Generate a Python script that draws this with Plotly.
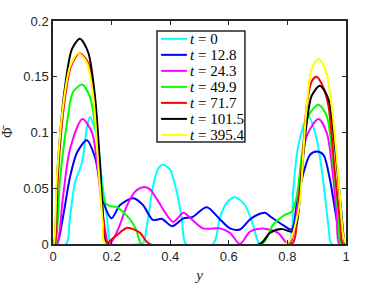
import plotly.graph_objects as go

# ---- data ----
labels = ["t = 0", "t = 12.8", "t = 24.3", "t = 49.9", "t = 71.7", "t = 101.5", "t = 395.4"]
colors = ["#00FFFF", "#0000FF", "#FF00FF", "#00FF00", "#FF0000", "#000000", "#FFFF00"]

y_t0 = [0, 0.045, 0.058, 0.075, 0.099, 0.116, 0.126, 0.15, 0.167, 0.184, 0.2,
        0.3, 0.307, 0.325, 0.341, 0.358, 0.375, 0.399, 0.423, 0.44, 0.454,
        0.546, 0.57, 0.593, 0.621, 0.655, 0.683, 0.706,
        0.803, 0.82, 0.837, 0.871, 0.9, 0.923, 0.94, 0.951, 1.0]
phi_t0 = [0, 0, 0.024, 0.055, 0.073, 0.105, 0.114, 0.096, 0.058, 0.024, 0,
          0, 0, 0.024, 0.051, 0.067, 0.071, 0.067, 0.046, 0.022, 0,
          0, 0.024, 0.037, 0.042, 0.035, 0.017, 0,
          0, 0.049, 0.088, 0.115, 0.094, 0.055, 0.016, 0, 0]

y_t1 = [0, 0.013, 0.034, 0.058, 0.082, 0.115, 0.143, 0.16, 0.178, 0.2, 0.229,
        0.274, 0.307, 0.341, 0.372, 0.406, 0.445, 0.474, 0.525, 0.57, 0.604,
        0.638, 0.672, 0.696, 0.724, 0.74, 0.785, 0.815, 0.832, 0.855, 0.877,
        0.9, 0.923, 0.945, 0.968, 0.985, 1.0]
phi_t1 = [0, 0, 0.024, 0.06, 0.082, 0.093, 0.078, 0.055, 0.033, 0.023, 0.035,
          0.041, 0.035, 0.0216, 0.0225, 0.016, 0.023, 0.024, 0.033, 0.022, 0.014,
          0.013, 0.022, 0.026, 0.028, 0.025, 0.017, 0.013, 0.036, 0.064, 0.08,
          0.083, 0.08, 0.058, 0.022, 0, 0]

y_t2 = [0, 0.013, 0.034, 0.058, 0.1, 0.133, 0.154, 0.171, 0.19, 0.2, 0.225,
        0.25, 0.28, 0.307, 0.331, 0.355, 0.41, 0.445, 0.474, 0.512, 0.57,
        0.604, 0.638, 0.672, 0.717, 0.768, 0.8, 0.809, 0.826, 0.843, 0.866,
        0.906, 0.934, 0.957, 0.968, 0.977, 1.0]
phi_t2 = [0, 0, 0.042, 0.085, 0.112, 0.1, 0.064, 0.024, 0, 0.002, 0.015,
          0.033, 0.047, 0.051, 0.049, 0.04, 0.02, 0.028, 0.022, 0.014, 0.014,
          0.01, 0, 0.011, 0.014, 0.01, 0, 0, 0.016, 0.055, 0.097,
          0.112, 0.1, 0.058, 0.025, 0, 0]

y_t3 = [0, 0.007, 0.024, 0.048, 0.068, 0.099, 0.126, 0.15, 0.167, 0.178, 0.195,
        0.218, 0.263, 0.285, 0.303, 0.713, 0.75, 0.79, 0.815, 0.832, 0.849,
        0.872, 0.906, 0.934, 0.957, 0.974, 0.982, 1.0]
phi_t3 = [0, 0, 0.058, 0.109, 0.136, 0.143, 0.132, 0.094, 0.051, 0.037, 0.034,
          0.033, 0.022, 0.012, 0, 0, 0.017, 0.026, 0.029, 0.043, 0.079,
          0.115, 0.125, 0.115, 0.07, 0.025, 0, 0]

y_t4 = [0, 0.006, 0.016, 0.037, 0.061, 0.09, 0.119, 0.141, 0.158, 0.173, 0.184,
        0.195, 0.218, 0.254, 0.297, 0.33, 0.815, 0.826, 0.835, 0.852, 0.866,
        0.883, 0.9, 0.92, 0.94, 0.962, 0.98, 0.989, 1.0]
phi_t4 = [0, 0, 0.058, 0.123, 0.159, 0.171, 0.163, 0.133, 0.073, 0.019, 0,
          0.003, 0.008, 0.0145, 0.01, 0, 0, 0.006, 0.028, 0.079, 0.124,
          0.146, 0.15, 0.142, 0.124, 0.064, 0.019, 0, 0]

y_t5 = [0, 0.003, 0.017, 0.041, 0.065, 0.092, 0.12, 0.143, 0.16, 0.171, 0.183,
        0.706, 0.74, 0.78, 0.815, 0.832, 0.849, 0.866, 0.883, 0.911, 0.94,
        0.962, 0.98, 0.997, 1.0]
phi_t5 = [0, 0, 0.073, 0.141, 0.175, 0.184, 0.172, 0.133, 0.073, 0.024, 0,
          0, 0.01, 0.0135, 0.011, 0.019, 0.064, 0.109, 0.133, 0.142, 0.13,
          0.088, 0.04, 0, 0]

y_t6 = [0, 0.003, 0.013, 0.034, 0.058, 0.086, 0.115, 0.137, 0.154, 0.17, 0.18,
        0.792, 0.81, 0.826, 0.843, 0.855, 0.866, 0.883, 0.906, 0.929, 0.951,
        0.968, 0.98, 0.991, 1.0]
phi_t6 = [0, 0, 0.058, 0.123, 0.159, 0.171, 0.163, 0.133, 0.073, 0.019, 0,
          0, 0.004, 0.016, 0.04, 0.085, 0.124, 0.157, 0.166, 0.157, 0.124,
          0.079, 0.04, 0.007, 0]

xs = [y_t0, y_t1, y_t2, y_t3, y_t4, y_t5, y_t6]
ys = [phi_t0, phi_t1, phi_t2, phi_t3, phi_t4, phi_t5, phi_t6]

x_ticks = [0, 0.2, 0.4, 0.6, 0.8, 1]
y_ticks = [0, 0.05, 0.1, 0.15, 0.2]

fig = go.Figure()
for lab, col, xv, yv in zip(labels, colors, xs, ys):
    name = "<i>t</i>" + lab[1:]
    fig.add_trace(go.Scatter(x=xv, y=yv, mode="lines", name=name, showlegend=False,
                             line=dict(color=col, width=2, shape="spline", smoothing=0.8)))

# legend box drawn in paper coordinates (compact, MATLAB-like)
L_x0, L_x1, L_y0, L_y1 = 0.355, 0.655, 0.457, 0.955
line_x0, line_x1, text_x = 0.369, 0.457, 0.460
row_top, row_step = 0.920, 0.0718
shapes = [dict(type="rect", xref="paper", yref="paper", x0=L_x0, x1=L_x1, y0=L_y0, y1=L_y1,
               line=dict(color="#262626", width=1.5), fillcolor="white", layer="above")]
annotations = []
for i, (lab, col) in enumerate(zip(labels, colors)):
    yy = row_top - i * row_step
    shapes.append(dict(type="line", xref="paper", yref="paper", x0=line_x0, x1=line_x1,
                       y0=yy, y1=yy, line=dict(color=col, width=2), layer="above"))
    annotations.append(dict(xref="paper", yref="paper", x=text_x, y=yy, xanchor="left",
                            yanchor="middle", showarrow=False,
                            text="<i>t</i>" + lab[1:],
                            font=dict(family="Liberation Serif", size=15, color="black")))

axis_common = dict(showline=True, mirror="ticks", ticks="inside", ticklen=4,
                   linecolor="#262626", linewidth=1.5, tickcolor="#262626",
                   showgrid=False, zeroline=False, automargin=False,
                   tickfont=dict(family="Liberation Sans", size=13, color="#262626"))

fig.update_layout(
    width=382, height=286,
    margin=dict(l=53, r=36, t=21, b=42, autoexpand=False),
    paper_bgcolor="white", plot_bgcolor="white",
    xaxis=dict(range=[0, 1], tickvals=x_ticks, ticktext=[str(v) for v in x_ticks],
               title=dict(text="<i>y</i>", standoff=6,
                          font=dict(family="Liberation Serif", size=15, color="#262626")),
               **axis_common),
    yaxis=dict(range=[0, 0.2], tickvals=y_ticks, ticktext=[str(v) for v in y_ticks],
               title=dict(text="Φ\u0304", standoff=8,
                          font=dict(family="Liberation Serif", size=14, color="#262626")),
               **axis_common),
    shapes=shapes,
    annotations=annotations,
    showlegend=False,
)

fig.write_html("out.html", config={"displayModeBar": False},
               post_script="document.body.style.margin='0';document.body.style.padding='0';")
